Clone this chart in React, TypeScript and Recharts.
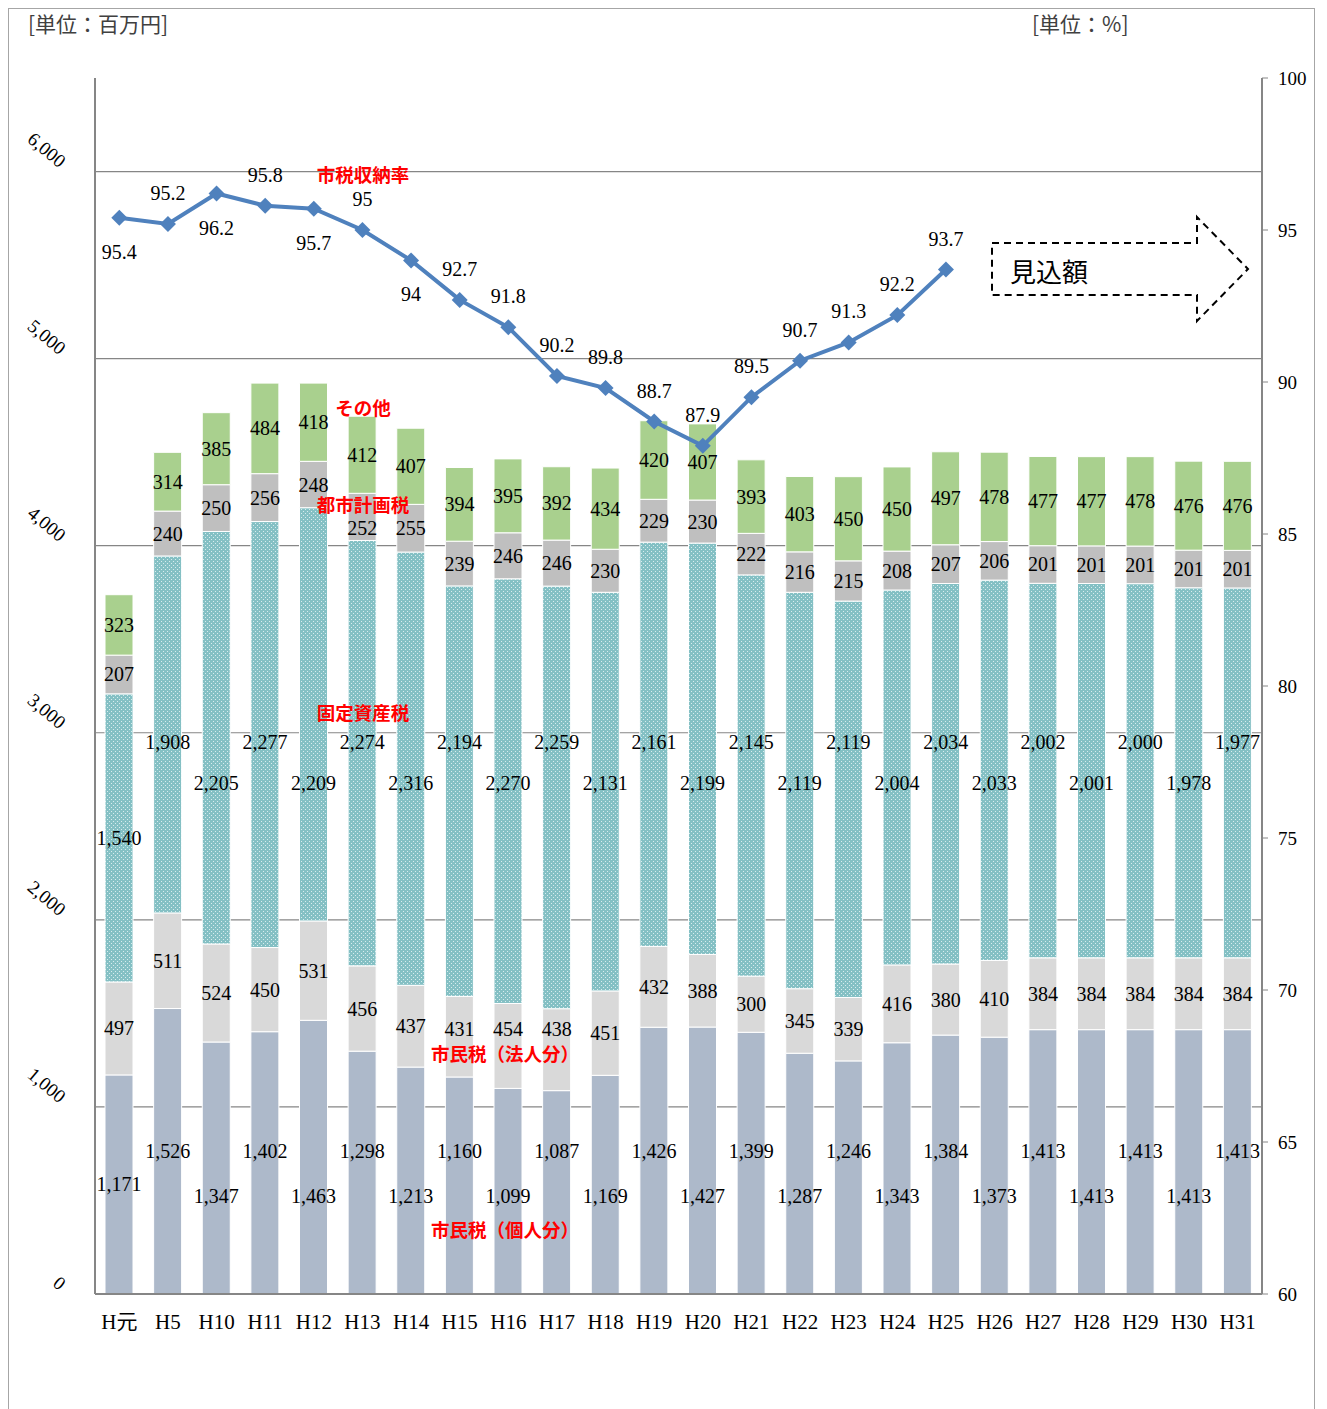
import React from "react";
import {
  ComposedChart,
  Bar,
  Line,
  XAxis,
  YAxis,
  CartesianGrid,
  LabelList,
} from "recharts";

const years = [
  "H元", "H5", "H10", "H11", "H12", "H13", "H14", "H15", "H16", "H17", "H18", "H19",
  "H20", "H21", "H22", "H23", "H24", "H25", "H26", "H27", "H28", "H29", "H30", "H31",
];
// 市民税（個人分）
const kojin = [
  1171, 1526, 1347, 1402, 1463, 1298, 1213, 1160, 1099, 1087, 1169, 1426,
  1427, 1399, 1287, 1246, 1343, 1384, 1373, 1413, 1413, 1413, 1413, 1413,
];
// 市民税（法人分）
const houjin = [
  497, 511, 524, 450, 531, 456, 437, 431, 454, 438, 451, 432,
  388, 300, 345, 339, 416, 380, 410, 384, 384, 384, 384, 384,
];
// 固定資産税
const kotei = [
  1540, 1908, 2205, 2277, 2209, 2274, 2316, 2194, 2270, 2259, 2131, 2161,
  2199, 2145, 2119, 2119, 2004, 2034, 2033, 2002, 2001, 2000, 1978, 1977,
];
// 都市計画税
const toshi = [
  207, 240, 250, 256, 248, 252, 255, 239, 246, 246, 230, 229,
  230, 222, 216, 215, 208, 207, 206, 201, 201, 201, 201, 201,
];
// その他
const sonota = [
  323, 314, 385, 484, 418, 412, 407, 394, 395, 392, 434, 420,
  407, 393, 403, 450, 450, 497, 478, 477, 477, 478, 476, 476,
];
// 市税収納率 (%)
const rate: (number | null)[] = [
  95.4, 95.2, 96.2, 95.8, 95.7, 95, 94, 92.7, 91.8, 90.2, 89.8, 88.7,
  87.9, 89.5, 90.7, 91.3, 92.2, 93.7, null, null, null, null, null, null,
];

const leftTicks = [0, 1000, 2000, 3000, 4000, 5000, 6000];
const gridValues = [1000, 2000, 3000, 4000, 5000, 6000];
const rightTicks = [60, 65, 70, 75, 80, 85, 90, 95, 100];

const data = years.map((y, i) => ({
  year: y,
  kojin: kojin[i],
  houjin: houjin[i],
  kotei: kotei[i],
  toshi: toshi[i],
  sonota: sonota[i],
  rate: rate[i],
}));

const SERIF = "'Liberation Serif', 'DejaVu Serif', 'Noto Sans CJK JP', serif";
const SANS = "'Noto Sans CJK JP', 'Noto Sans', sans-serif";

// red series names written inside the plot (chart coordinates)
const notes = [
  { text: "市税収納率", x: 354, y: 165 },
  { text: "その他", x: 354, y: 398 },
  { text: "都市計画税", x: 354, y: 495 },
  { text: "固定資産税", x: 354, y: 703 },
  { text: "市民税（法人分）", x: 496, y: 1044 },
  { text: "市民税（個人分）", x: 496, y: 1220 },
];
const NOTE_FS = 18.5;

// push a number label off a red note if they collide
function clearOfNotes(cx: number, cy: number, w: number, h: number) {
  let y = cy;
  for (const n of notes) {
    const nw = n.text.length * NOTE_FS;
    const nh = NOTE_FS;
    const gap = (h + nh) / 2;
    if (Math.abs(cx - n.x) < (w + nw) / 2 && Math.abs(y - n.y) < gap) {
      y = y < n.y ? n.y - gap - 7 : n.y + gap + 7;
    }
  }
  return y;
}

const fmt = (v: number) => Number(v).toLocaleString("en-US");
const textW = (s: string) => s.replace(/,/g, "").length * 10 + (s.match(/,/g) || []).length * 5;

// labels at segment centre, or on two alternating rows (even / odd bars) given in axis units
function barLabel(base?: (i: number) => number, rows?: [number, number]) {
  return (props: any) => {
    const vb = props.viewBox || {};
    const x = props.x ?? vb.x;
    const y = props.y ?? vb.y;
    const w = props.width ?? vb.width;
    const h = Math.abs(props.height ?? vb.height);
    const { value, index } = props;
    if (value == null) return null;
    let cy = y + h / 2;
    if (base && rows && index > 0) {
      const ppu = h / value;
      const level = rows[index % 2];
      cy = y + h - (level - base(index)) * ppu;
    }
    const s = fmt(value);
    const cx = x + w / 2;
    cy = clearOfNotes(cx, cy, textW(s), 16);
    return (
      <text
        x={cx}
        y={cy}
        textAnchor="middle"
        dominantBaseline="central"
        fontSize={20}
        fontFamily={SERIF}
        fill="#000"
      >
        {s}
      </text>
    );
  };
}

const rateLabel = (props: any) => {
  const vb = props.viewBox || {};
  const x = props.x ?? vb.x;
  const y = props.y ?? vb.y;
  const { value, index } = props;
  if (value == null) return null;
  const below = index < 7 && index % 2 === 0;
  return (
    <text
      x={x}
      y={below ? y + 34 : y - 31}
      textAnchor="middle"
      dominantBaseline="central"
      fontSize={20}
      fontFamily={SERIF}
      fill="#000"
    >
      {value}
    </text>
  );
};

const Diamond = (props: any) => {
  const { cx, cy, index } = props;
  if (cx == null || cy == null || props.value == null) return <g key={`d${index}`} />;
  const r = 8;
  return (
    <polygon
      key={`d${index}`}
      points={`${cx},${cy - r} ${cx + r},${cy} ${cx},${cy + r} ${cx - r},${cy}`}
      fill="#4F81BD"
    />
  );
};

const LeftTick = (props: any) => {
  const { y, payload } = props;
  const ax = 50;
  const ay = y - 3;
  return (
    <text
      x={ax}
      y={ay}
      textAnchor="end"
      fontSize={19}
      fontFamily={SERIF}
      fill="#000"
      transform={`rotate(40 ${ax} ${ay})`}
    >
      {fmt(payload.value)}
    </text>
  );
};

export default function App() {
  return (
    <div
      style={{
        position: "relative",
        width: 1305,
        height: 1401,
        border: "1px solid #A6A6A6",
        background: "#fff",
      }}
    >
      <ComposedChart
        width={1305}
        height={1400}
        data={data}
        margin={{ top: 69, right: 0, bottom: 75, left: 26 }}
        barSize={28}
      >
        <defs>
          <pattern id="dots" width="4" height="4" patternUnits="userSpaceOnUse">
            <rect width="4" height="4" fill="#84C0C4" />
            <rect x="0" y="0" width="1" height="1" fill="#D8ECEE" />
            <rect x="2" y="2" width="1" height="1" fill="#D8ECEE" />
          </pattern>
        </defs>
        <CartesianGrid
          vertical={false}
          stroke="#868686"
          strokeWidth={1.2}
          yAxisId="left"
          horizontalValues={gridValues}
        />
        <XAxis
          dataKey="year"
          axisLine={{ stroke: "#868686", strokeWidth: 2 }}
          tickLine={false}
          height={40}
          interval={0}
          tick={{ fontSize: 21, fontFamily: SERIF, fill: "#000", dy: 12 }}
        />
        <YAxis
          yAxisId="left"
          domain={[0, 6500]}
          ticks={leftTicks}
          width={60}
          axisLine={{ stroke: "#868686", strokeWidth: 2 }}
          tickLine={false}
          tick={<LeftTick />}
          allowDataOverflow
        />
        <YAxis
          yAxisId="right"
          orientation="right"
          domain={[60, 100]}
          ticks={rightTicks}
          width={52}
          axisLine={{ stroke: "#868686", strokeWidth: 2 }}
          tickLine={{ stroke: "#868686" }}
          tickSize={6}
          tick={{ fontSize: 19, fontFamily: SERIF, fill: "#000", dx: 8 }}
        />
        <Bar yAxisId="left" dataKey="kojin" stackId="a" fill="#ADB9CA" stroke="#fff" strokeWidth={1} isAnimationActive={false}>
          <LabelList dataKey="kojin" content={barLabel(() => 0, [525, 762])} />
        </Bar>
        <Bar yAxisId="left" dataKey="houjin" stackId="a" fill="#D9D9D9" stroke="#fff" strokeWidth={1} isAnimationActive={false}>
          <LabelList dataKey="houjin" content={barLabel()} />
        </Bar>
        <Bar yAxisId="left" dataKey="kotei" stackId="a" fill="url(#dots)" stroke="#fff" strokeWidth={1} isAnimationActive={false}>
          <LabelList dataKey="kotei" content={barLabel((i) => kojin[i] + houjin[i], [2730, 2950])} />
        </Bar>
        <Bar yAxisId="left" dataKey="toshi" stackId="a" fill="#BFBFBF" stroke="#fff" strokeWidth={1} isAnimationActive={false}>
          <LabelList dataKey="toshi" content={barLabel()} />
        </Bar>
        <Bar yAxisId="left" dataKey="sonota" stackId="a" fill="#A9D08E" stroke="#fff" strokeWidth={1} isAnimationActive={false}>
          <LabelList dataKey="sonota" content={barLabel()} />
        </Bar>
        <Line
          yAxisId="right"
          dataKey="rate"
          stroke="#4F81BD"
          strokeWidth={4}
          dot={<Diamond />}
          activeDot={false}
          connectNulls={false}
          isAnimationActive={false}
        >
          <LabelList dataKey="rate" content={rateLabel} />
        </Line>
      </ComposedChart>

      <svg
        width={1305}
        height={1401}
        style={{ position: "absolute", left: 0, top: 0, pointerEvents: "none" }}
      >
        <text x={19} y={14} fontSize={21} fontFamily={SANS} fill="#404040" dominantBaseline="central">
          [単位：百万円]
        </text>
        <text x={1023} y={14} fontSize={21} fontFamily={SANS} fill="#404040" dominantBaseline="central">
          [単位：%]
        </text>

        {notes.map((n) => (
          <text
            key={n.text}
            x={n.x}
            y={n.y}
            textAnchor="middle"
            dominantBaseline="central"
            fill="#FF0000"
            fontSize={NOTE_FS}
            fontFamily={SANS}
            fontWeight={700}
          >
            {n.text}
          </text>
        ))}

        <path
          d="M 983 234 L 1188 234 L 1188 208 L 1239 260 L 1188 312 L 1188 286 L 983 286 Z"
          fill="none"
          stroke="#000"
          strokeWidth={2}
          strokeDasharray="7 5"
        />
        <text x={1001} y={261} fontSize={26} fontFamily={SANS} fill="#000" dominantBaseline="central">
          見込額
        </text>
      </svg>
    </div>
  );
}
